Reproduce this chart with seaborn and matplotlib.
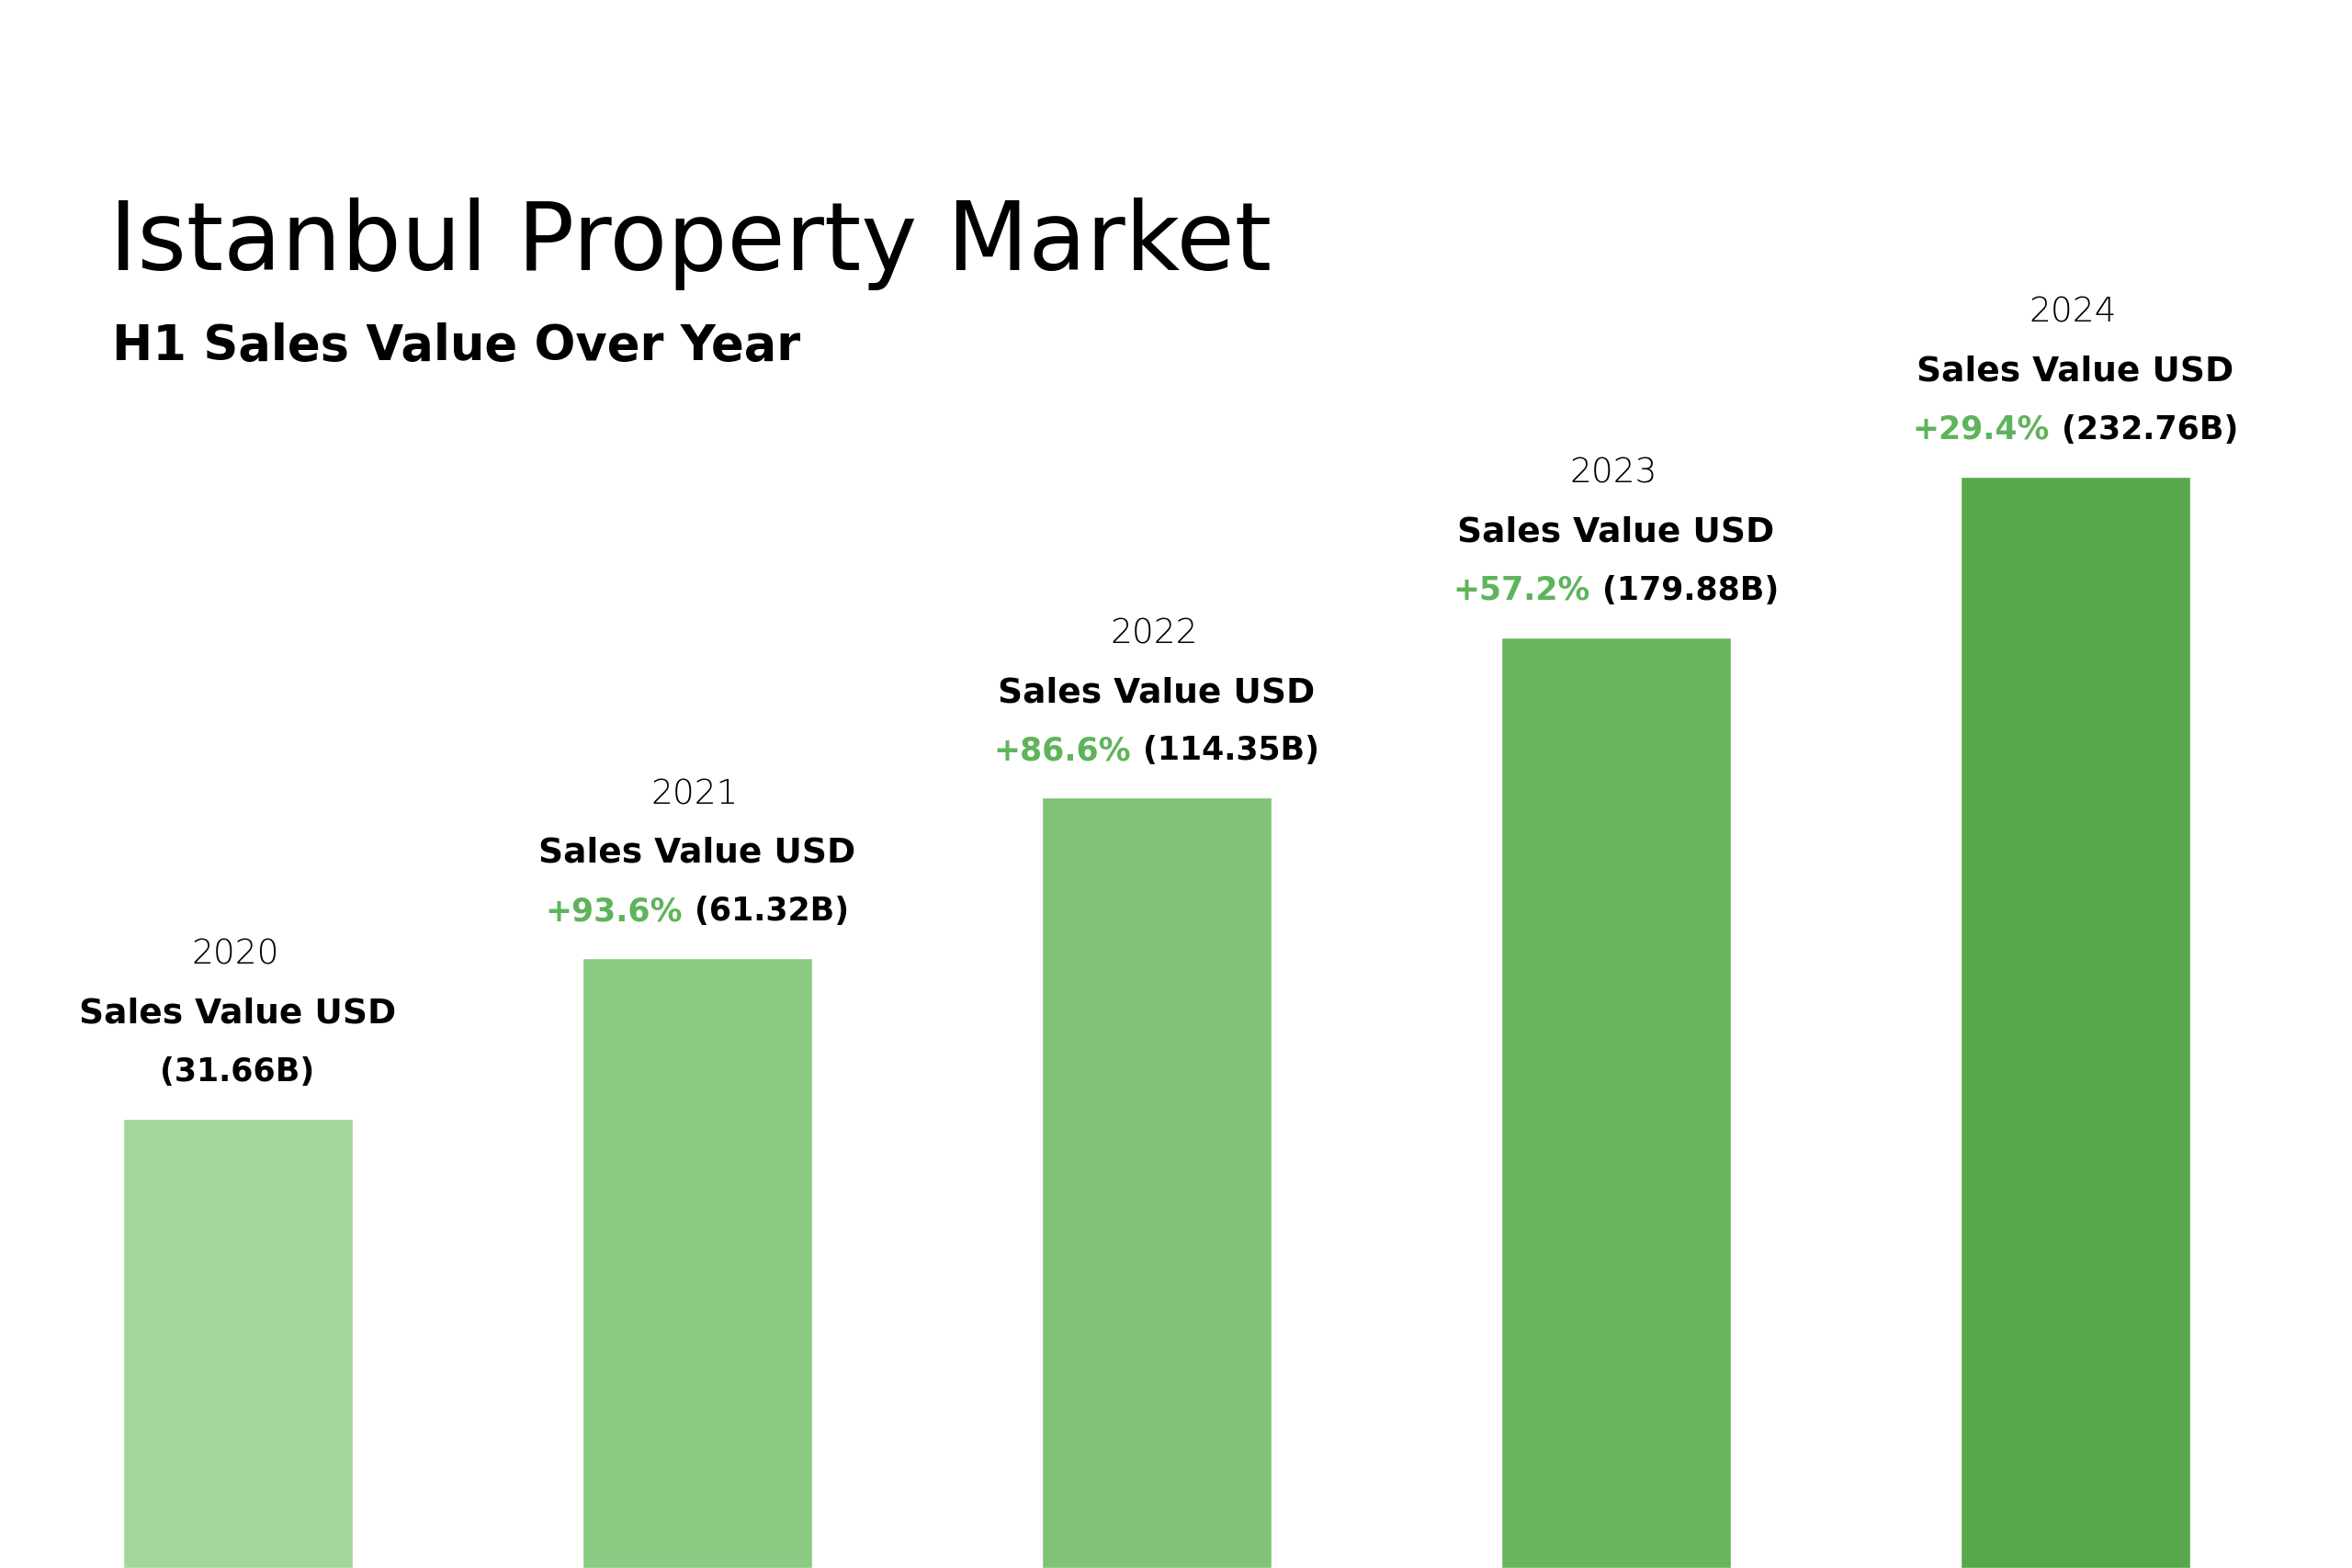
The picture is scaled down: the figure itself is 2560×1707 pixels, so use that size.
import matplotlib
matplotlib.use("Agg")
import matplotlib.pyplot as plt
import seaborn as sns

# ========== Data ==========

years = ["2020", "2021", "2022", "2023", "2024"]
sales_value = ["31.66B", "61.32B", "114.35B", "179.88B", "232.76B"]
growth = [None, "+93.6%", "+86.6%", "+57.2%", "+29.4%"]
# bar heights as drawn (evenly stepped, not proportional to value)
bar_height = [2.8, 3.8, 4.8, 5.8, 6.8]
bar_colors = ["#a2d69a", "#8bca82", "#80c376", "#69b45d", "#57a84a"]

title = "Istanbul Property Market"
subtitle = "H1 Sales Value Over Year"
series_label = "Sales Value USD"
pct_color = "#5fb45b"

# ========== Plot ==========

sns.set_theme(style="white")
plt.rcParams["font.family"] = ["DejaVu Sans"]

DPI = 100
fig = plt.figure(figsize=(25.6, 17.07), dpi=DPI)
fig.patch.set_facecolor("white")
ax = fig.add_axes([0, 0, 1, 1])

sns.barplot(x=years, y=bar_height, hue=years, palette=bar_colors,
            legend=False, width=0.5, saturation=1, ax=ax)

ax.set_xlim(-0.517, 4.602)
ax.set_ylim(0, 9.77)
ax.axis("off")

fig.text(0.0465, 0.8278, title, fontsize=74, color="black",
         ha="left", va="baseline")
fig.text(0.0475, 0.7704, subtitle, fontsize=38, fontweight="bold",
         color="black", ha="left", va="baseline")

renderer = fig.canvas.get_renderer()
px2pt = 72.0 / DPI
value_size = 25

for i, (yr, h) in enumerate(zip(years, bar_height)):
    ax.annotate(yr, xy=(i, h), xytext=(-2, 121), textcoords="offset points",
                ha="center", va="baseline", fontsize=27, fontweight="light",
                color="black")
    ax.annotate(series_label, xy=(i, h), xytext=(0, 75), textcoords="offset points",
                ha="center", va="baseline", fontsize=27,
                fontweight="bold", color="black")

    val_txt = f"({sales_value[i]})"
    if growth[i] is None:
        ax.annotate(val_txt, xy=(i, h), xytext=(0, 29.5), textcoords="offset points",
                    ha="center", va="baseline", fontsize=value_size,
                    fontweight="bold", color="black")
        continue

    # two-colour line, centred as a whole over the bar
    t1 = ax.annotate(growth[i], xy=(i, h), xytext=(0, 29.5), textcoords="offset points",
                     ha="left", va="baseline", fontsize=value_size,
                     fontweight="bold", color=pct_color)
    t2 = ax.annotate(val_txt, xy=(i, h), xytext=(0, 29.5), textcoords="offset points",
                     ha="left", va="baseline", fontsize=value_size,
                     fontweight="bold", color="black")
    w1 = t1.get_window_extent(renderer).width
    w2 = t2.get_window_extent(renderer).width
    gap = 13
    total = w1 + gap + w2
    t1.set_position((-total / 2 * px2pt, 29.5))
    t2.set_position(((-total / 2 + w1 + gap) * px2pt, 29.5))

fig.savefig("out.png", dpi=DPI, facecolor="white")
